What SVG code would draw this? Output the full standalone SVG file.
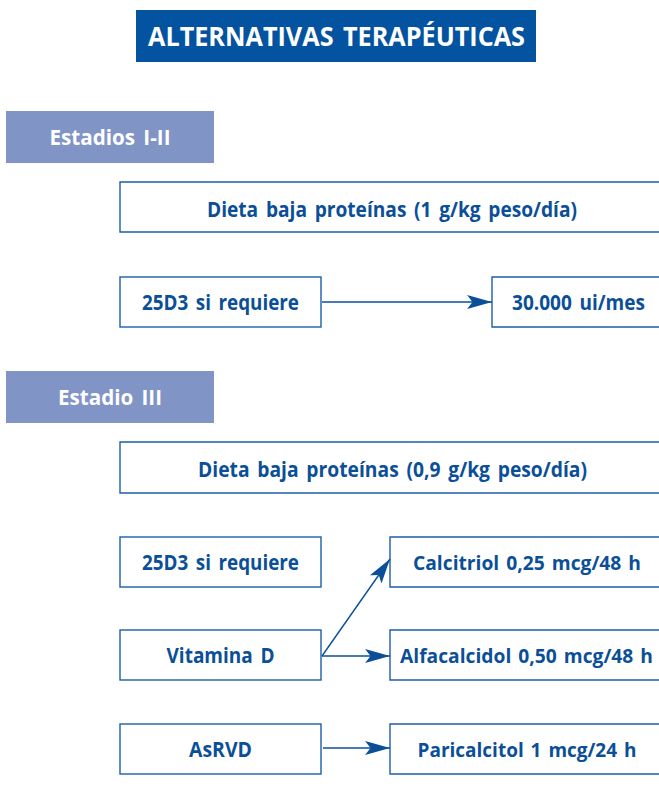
<svg xmlns="http://www.w3.org/2000/svg" width="659" height="800" viewBox="0 0 659 800">
<style>
text{font-family:"Open Sans","Liberation Sans",sans-serif;font-weight:700;text-anchor:middle;word-spacing:3px}
.box{fill:#fff;stroke:#1f5ea8;stroke-width:1.4}
.open{fill:none;stroke:#1f5ea8;stroke-width:1.4}
.t{fill:#0b4f98;font-size:21px}
.r{font-size:19px;word-spacing:2px}
.st{fill:#fff;font-size:21px}
.stage{fill:#8094c6}
.c{stroke:#0b4f98;stroke-width:1.4;fill:none;marker-end:url(#ah)}
</style>
<defs>
<marker id="ah" markerUnits="userSpaceOnUse" markerWidth="26" markerHeight="16" viewBox="0 0 24 14" refX="23" refY="7" orient="auto">
<path d="M0,0.5 L23,7 L0,13.5 L5,7 z" fill="#0b4f98"/>
</marker>
</defs>
<rect width="659" height="800" fill="#fff"/>
<g id="title">
<rect x="136" y="10" width="400" height="52" fill="#0353a1"/>
<text x="336.5" y="46" fill="#fff" font-size="26.5" textLength="377" lengthAdjust="spacingAndGlyphs">ALTERNATIVAS TERAPÉUTICAS</text>
</g>
<g id="estadios-i-ii">
<rect class="stage" x="6" y="111" width="208" height="52"/>
<text class="st" x="110" y="144.5" textLength="121" lengthAdjust="spacingAndGlyphs">Estadios I-II</text>
</g>
<g id="dieta-1">
<path class="open" d="M659,182 H120 V232 H659"/>
<text class="t" x="392" y="217" textLength="370" lengthAdjust="spacingAndGlyphs">Dieta baja proteínas (1 g/kg peso/día)</text>
</g>
<g id="d3-1">
<rect class="box" x="120" y="277" width="201" height="50"/>
<text class="t" x="220.5" y="310" textLength="157" lengthAdjust="spacingAndGlyphs">25D3 si requiere</text>
</g>
<g id="ui-mes">
<path class="open" d="M659,277 H492 V327 H659"/>
<text class="t" x="578.5" y="310" textLength="133" lengthAdjust="spacingAndGlyphs">30.000 ui/mes</text>
</g>
<g id="estadio-iii">
<rect class="stage" x="6" y="371" width="208" height="52"/>
<text class="st" x="110" y="404.5" textLength="104" lengthAdjust="spacingAndGlyphs">Estadio III</text>
</g>
<g id="dieta-2">
<path class="open" d="M659,442 H120 V493 H659"/>
<text class="t" x="392.5" y="477" textLength="389" lengthAdjust="spacingAndGlyphs">Dieta baja proteínas (0,9 g/kg peso/día)</text>
</g>
<g id="d3-2">
<rect class="box" x="120" y="537" width="201" height="50"/>
<text class="t" x="220.5" y="570" textLength="157" lengthAdjust="spacingAndGlyphs">25D3 si requiere</text>
</g>
<g id="calcitriol">
<path class="open" d="M659,537 H390 V587 H659"/>
<text class="t r" x="527" y="570" textLength="228" lengthAdjust="spacingAndGlyphs">Calcitriol 0,25 mcg/48 h</text>
</g>
<g id="vitamina-d">
<rect class="box" x="120" y="630" width="201" height="50"/>
<text class="t" x="220.5" y="663" textLength="108" lengthAdjust="spacingAndGlyphs">Vitamina D</text>
</g>
<g id="alfacalcidol">
<path class="open" d="M659,630 H390 V680 H659"/>
<text class="t r" x="526.5" y="663" textLength="253" lengthAdjust="spacingAndGlyphs">Alfacalcidol 0,50 mcg/48 h</text>
</g>
<g id="asrvd">
<rect class="box" x="120" y="724" width="201" height="50"/>
<text class="t" x="220.5" y="757" textLength="63" lengthAdjust="spacingAndGlyphs">AsRVD</text>
</g>
<g id="paricalcitol">
<path class="open" d="M659,724 H390 V774 H659"/>
<text class="t r" x="527" y="757" textLength="219" lengthAdjust="spacingAndGlyphs">Paricalcitol 1 mcg/24 h</text>
</g>
<g id="connectors">
<line class="c" x1="322" y1="302" x2="492" y2="302"/>
<line class="c" x1="322" y1="656" x2="390" y2="559"/>
<line class="c" x1="322" y1="656" x2="390" y2="656"/>
<line class="c" x1="323" y1="748" x2="390" y2="748"/>
</g>
</svg>
